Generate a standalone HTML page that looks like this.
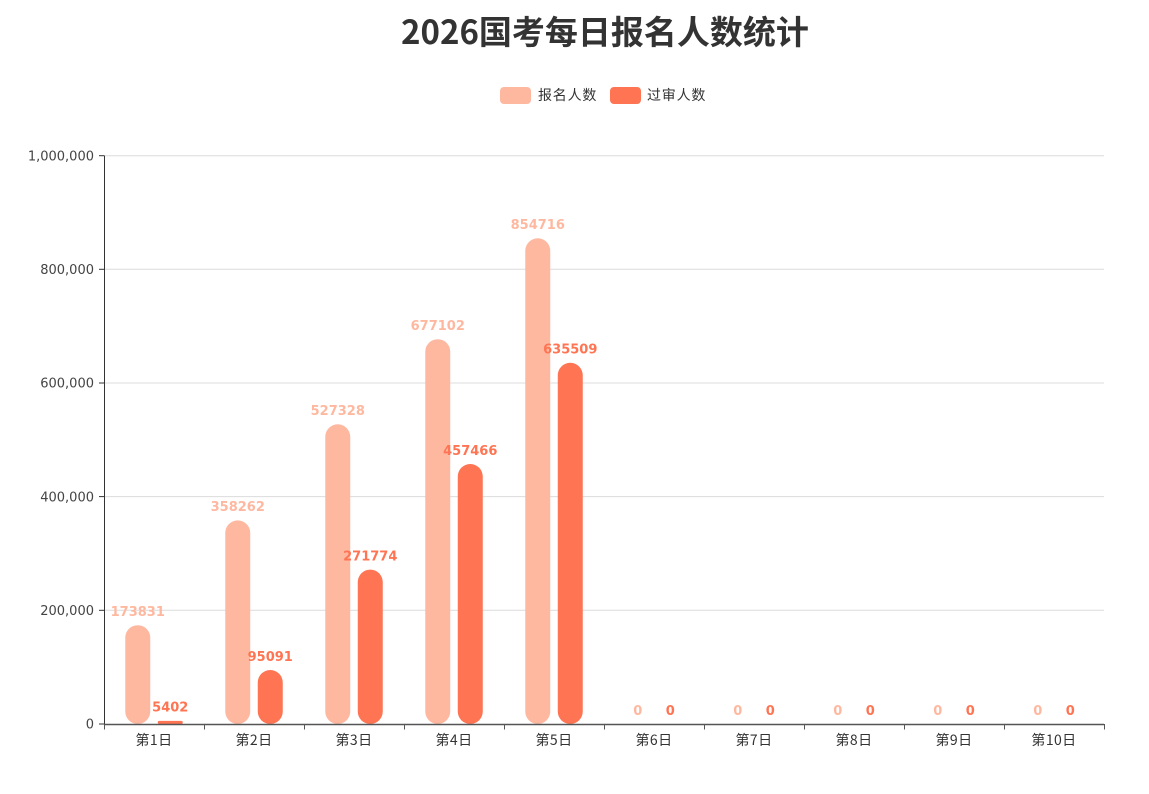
<!DOCTYPE html>
<html>
<head>
<meta charset="utf-8">
<style>
  html,body{margin:0;padding:0;background:#fff;}
  svg{display:block;}
  .t{font-family:"Noto Sans CJK SC","WenQuanYi Zen Hei",sans-serif;}
  .n{font-family:"DejaVu Sans","Liberation Sans",sans-serif;}
  .xl{font-family:"Noto Sans CJK SC","WenQuanYi Zen Hei",sans-serif;font-size:14px;fill:#333;letter-spacing:0.4px;}
  .yl{font-family:"DejaVu Sans","Liberation Sans",sans-serif;font-size:13px;fill:#444;}
  .l1{font-family:"DejaVu Sans","Liberation Sans",sans-serif;font-size:13px;font-weight:bold;fill:#FFB8A0;}
  .l2{font-family:"DejaVu Sans","Liberation Sans",sans-serif;font-size:13px;font-weight:bold;fill:#FF7452;}
</style>
</head>
<body>
<svg width="1149" height="794" viewBox="0 0 1149 794" xmlns="http://www.w3.org/2000/svg">
  <rect x="0" y="0" width="1149" height="794" fill="#fff"/>
  <!-- Title -->
  <text x="605" y="44" text-anchor="middle" class="t" font-size="33" font-weight="bold" fill="#333">2026国考每日报名人数统计</text>

  <!-- Legend -->
  <rect x="500" y="87" width="31" height="17" rx="4" ry="4" fill="#FFB8A0"/>
  <text x="538" y="100" class="t" font-size="14" fill="#333" letter-spacing="0.8">报名人数</text>
  <rect x="610" y="87" width="31" height="17" rx="4" ry="4" fill="#FF7452"/>
  <text x="647" y="100" class="t" font-size="14" fill="#333" letter-spacing="0.8">过审人数</text>

  <!-- Grid lines -->
  <g stroke="#dcdcdc" stroke-width="1">
    <line x1="104" y1="155.7" x2="1104" y2="155.7"/>
    <line x1="104" y1="269.3" x2="1104" y2="269.3"/>
    <line x1="104" y1="383" x2="1104" y2="383"/>
    <line x1="104" y1="496.6" x2="1104" y2="496.6"/>
    <line x1="104" y1="610.3" x2="1104" y2="610.3"/>
  </g>

  <!-- Y axis -->
  <line x1="104.5" y1="155.5" x2="104.5" y2="724" stroke="#333" stroke-width="1"/>
  <g stroke="#333" stroke-width="1">
    <line x1="99" y1="155.7" x2="104" y2="155.7"/>
    <line x1="99" y1="269.3" x2="104" y2="269.3"/>
    <line x1="99" y1="383" x2="104" y2="383"/>
    <line x1="99" y1="496.6" x2="104" y2="496.6"/>
    <line x1="99" y1="610.3" x2="104" y2="610.3"/>
    <line x1="99" y1="724" x2="104" y2="724"/>
  </g>
  <g text-anchor="end">
    <text x="94" y="160.4" class="yl">1,000,000</text>
    <text x="94" y="274" class="yl">800,000</text>
    <text x="94" y="387.7" class="yl">600,000</text>
    <text x="94" y="501.3" class="yl">400,000</text>
    <text x="94" y="615" class="yl">200,000</text>
    <text x="94" y="728.7" class="yl">0</text>
  </g>

  <!-- Bars series 1 -->
  <g fill="#FFB8A0">
    <rect x="125.25" y="625.2" width="25" height="98.8" rx="12.5" ry="12.5"/>
    <rect x="225.25" y="520.4" width="25" height="203.6" rx="12.5" ry="12.5"/>
    <rect x="325.25" y="424.3" width="25" height="299.7" rx="12.5" ry="12.5"/>
    <rect x="425.25" y="339.2" width="25" height="384.8" rx="12.5" ry="12.5"/>
    <rect x="525.25" y="238.3" width="25" height="485.7" rx="12.5" ry="12.5"/>
  </g>
  <!-- Bars series 2 -->
  <g fill="#FF7452">
    <rect x="157.75" y="720.9" width="25" height="3.1" rx="1.5" ry="1.5"/>
    <rect x="257.75" y="670" width="25" height="54" rx="12.5" ry="12.5"/>
    <rect x="357.75" y="569.6" width="25" height="154.4" rx="12.5" ry="12.5"/>
    <rect x="457.75" y="464" width="25" height="260" rx="12.5" ry="12.5"/>
    <rect x="557.75" y="362.8" width="25" height="361.2" rx="12.5" ry="12.5"/>
  </g>

  <!-- Labels series 1 -->
  <g text-anchor="middle">
    <text x="137.75" y="616" class="l1">173831</text>
    <text x="237.75" y="511.2" class="l1">358262</text>
    <text x="337.75" y="415.1" class="l1">527328</text>
    <text x="437.75" y="330" class="l1">677102</text>
    <text x="537.75" y="229.1" class="l1">854716</text>
    <text x="637.75" y="715" class="l1">0</text>
    <text x="737.75" y="715" class="l1">0</text>
    <text x="837.75" y="715" class="l1">0</text>
    <text x="937.75" y="715" class="l1">0</text>
    <text x="1037.75" y="715" class="l1">0</text>
  </g>
  <!-- Labels series 2 -->
  <g text-anchor="middle">
    <text x="170.25" y="711.7" class="l2">5402</text>
    <text x="270.25" y="660.8" class="l2">95091</text>
    <text x="370.25" y="560.4" class="l2">271774</text>
    <text x="470.25" y="454.8" class="l2">457466</text>
    <text x="570.25" y="353.6" class="l2">635509</text>
    <text x="670.25" y="715" class="l2">0</text>
    <text x="770.25" y="715" class="l2">0</text>
    <text x="870.25" y="715" class="l2">0</text>
    <text x="970.25" y="715" class="l2">0</text>
    <text x="1070.25" y="715" class="l2">0</text>
  </g>

  <!-- X axis -->
  <line x1="104" y1="724.5" x2="1104" y2="724.5" stroke="#555" stroke-width="1.5"/>
  <g stroke="#555" stroke-width="1">
    <line x1="104.5" y1="724" x2="104.5" y2="729.5"/>
    <line x1="204.5" y1="724" x2="204.5" y2="729.5"/>
    <line x1="304.5" y1="724" x2="304.5" y2="729.5"/>
    <line x1="404.5" y1="724" x2="404.5" y2="729.5"/>
    <line x1="504.5" y1="724" x2="504.5" y2="729.5"/>
    <line x1="604.5" y1="724" x2="604.5" y2="729.5"/>
    <line x1="704.5" y1="724" x2="704.5" y2="729.5"/>
    <line x1="804.5" y1="724" x2="804.5" y2="729.5"/>
    <line x1="904.5" y1="724" x2="904.5" y2="729.5"/>
    <line x1="1004.5" y1="724" x2="1004.5" y2="729.5"/>
    <line x1="1104.5" y1="724" x2="1104.5" y2="729.5"/>
  </g>
  <g text-anchor="middle">
    <text x="154" y="745" class="xl">第1日</text>
    <text x="254" y="745" class="xl">第2日</text>
    <text x="354" y="745" class="xl">第3日</text>
    <text x="454" y="745" class="xl">第4日</text>
    <text x="554" y="745" class="xl">第5日</text>
    <text x="654" y="745" class="xl">第6日</text>
    <text x="754" y="745" class="xl">第7日</text>
    <text x="854" y="745" class="xl">第8日</text>
    <text x="954" y="745" class="xl">第9日</text>
    <text x="1054" y="745" class="xl">第10日</text>
  </g>
</svg>
</body>
</html>
